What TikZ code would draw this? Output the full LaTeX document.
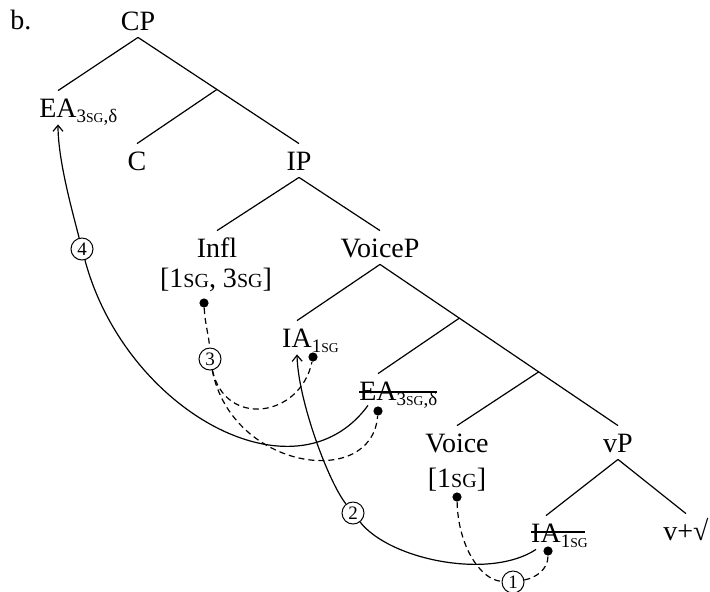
\documentclass[tikz,border=0pt]{standalone}
\usepackage{fontspec}
\setmainfont{Liberation Serif}
\usetikzlibrary{arrows.meta, calc}

% small caps SG and zero-width subscripts
\newcommand{\sg}[1][6.8]{{\fontsize{#1}{#1}\selectfont SG}}
\newcommand{\subx}[1]{\rlap{\raisebox{-2.5pt}{\fontsize{9.5}{9.5}\selectfont #1}}}

\begin{document}
\begin{tikzpicture}[
    x=0.5pt, y=-0.5pt,
    cat/.style={anchor=base, inner sep=3.5pt, text height=9.5pt, text depth=0pt, font=\fontsize{14}{16}\selectfont},
    feat/.style={anchor=base, inner sep=1pt, font=\fontsize{14}{16}\selectfont},
    dot/.style={circle, fill=black, inner sep=0pt, minimum size=4.6pt},
    num/.style={circle, draw=black, fill=white, line width=0.5pt, inner sep=0pt, minimum size=11pt, font=\fontsize{9.5}{9.5}\selectfont},
    branch/.style={line width=0.6pt},
    move/.style={line width=0.6pt, -{Straight Barb[length=3pt,width=5pt]}},
    agree/.style={line width=0.6pt, dash pattern=on 3pt off 2pt}
]
    \useasboundingbox (0,0) rectangle (710,591);

    % tree nodes
    \node[cat, anchor=base west, inner sep=0pt] (ex) at (10,29) {b.};
    \node[cat] (cp) at (138,30) {CP};
    \node[cat] (eahi) at (58,117) {EA\subx{3\sg,δ}};
    \node[cat] (c) at (137,170) {C};
    \node[cat] (ip) at (299,170) {IP};
    \node[cat] (infl) at (217,257) {Infl};
    \node[feat] (inflf) at (216,287) {[1\sg[10], 3\sg[10]]};
    \node[cat] (voicep) at (380,257) {VoiceP};
    \node[cat] (iahi) at (297,347) {IA\subx{1\sg}};
    \node[cat] (ealo) at (378,400) {EA\subx{3\sg,δ}};
    \node[cat] (voice) at (457,452) {Voice};
    \node[feat] (voicef) at (457,487) {[1\sg[10]]};
    \node[cat] (vp) at (618,452) {vP};
    \node[cat] (ialo) at (546,542) {IA\subx{1\sg}};
    \node[cat, anchor=base west] (vroot) at (656,540) {v+√};

    \coordinate (cbar) at ($(cp.south)!0.49!(ip.north)$);
    \coordinate (vbar1) at ($(voicep.south)!1/3!(vp.north)$);
    \coordinate (vbar2) at ($(voicep.south)!2/3!(vp.north)$);

    % branches
    \draw[branch] (cp.south) -- (eahi.north);
    \draw[branch] (cp.south) -- (ip.north);
    \draw[branch] (cbar) -- (c.north);
    \draw[branch] (ip.south) -- (infl.north);
    \draw[branch] (ip.south) -- (voicep.north);
    \draw[branch] (voicep.south) -- (iahi.north);
    \draw[branch] (voicep.south) -- (vp.north);
    \draw[branch] (vbar1) -- (ealo.north);
    \draw[branch] (vbar2) -- (voice.north);
    \draw[branch] (vp.south) -- (ialo.north);
    \draw[branch] (vp.south) -- (vroot.north);

    % struck-out copies
    \draw[line width=0.6pt] ($(ealo.base)+(-19,-8)$) -- ++(78,0);
    \draw[line width=0.6pt] ($(ialo.base)+(-15,-10)$) -- ++(54,0);

    % probes and goals
    \node[dot] (dinfl) at (204,303) {};
    \node[dot] (dia) at (313,357) {};
    \node[dot] (dea) at (378,411) {};
    \node[dot] (dvoice) at (457,497) {};
    \node[dot] (dialo) at (548,551) {};

    \node[num] (n1) at (513,582) {1};
    \node[num] (n2) at (353,513) {2};
    \node[num] (n3) at (210,359) {3};
    \node[num] (n4) at (82,249) {4};

    % agree
    \draw[agree] (dvoice) .. controls (458,545) and (480,580) .. (n1);
    \draw[agree] (n1) .. controls (535,578) and (548,570) .. (dialo);
    \draw[agree] (dinfl) .. controls (205,325) and (209,335) .. (n3);
    \draw[agree] (n3) .. controls (225,428) and (300,418) .. (dia);
    \draw[agree] (n3) .. controls (232,470) and (372,490) .. (dea);

    % movement
    \draw[line width=0.6pt] ($(ialo.south)+(-10,0)$) .. controls (490,580) and (390,560) .. (n2);
    \draw[move] (n2) .. controls (328,481) and (298,400) .. (iahi.south);
    \draw[line width=0.6pt] ($(ealo.south)+(-10,-2)$) .. controls (295,505) and (125,410) .. (n4);
    \draw[move] (n4) .. controls (72,210) and (58,160) .. (eahi.south);
\end{tikzpicture}
\end{document}
